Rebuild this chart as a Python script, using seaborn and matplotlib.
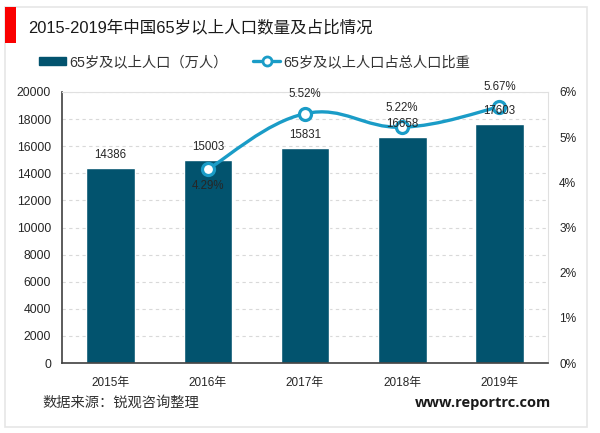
import numpy as np
import pandas as pd
import matplotlib
matplotlib.use("Agg")
import matplotlib.pyplot as plt
from matplotlib.lines import Line2D
from matplotlib.patches import Patch, PathPatch, Rectangle
from matplotlib.path import Path
import seaborn as sns

years = ["2015年", "2016年", "2017年", "2018年", "2019年"]
population = [14386, 15003, 15831, 16658, 17603]
share_years = ["2016年", "2017年", "2018年", "2019年"]
share = [4.29, 5.52, 5.22, 5.67]
left_ticks = [0, 2000, 4000, 6000, 8000, 10000, 12000, 14000, 16000, 18000, 20000]
right_ticks = [0, 1, 2, 3, 4, 5, 6]

BAR = "#02536e"
LINE = "#1a9cc7"
W, H = 600, 433

sns.set_theme(style="white")
plt.rcParams["font.family"] = ["Liberation Sans", "Noto Sans CJK SC", "DejaVu Sans"]

fig = plt.figure(figsize=(W / 100, H / 100), dpi=100)
ax = fig.add_axes([62 / W, 1 - 363 / H, (548 - 62) / W, (363 - 92) / H])

df = pd.DataFrame({"year": years, "population": population})
sns.barplot(data=df, x="year", y="population", color=BAR, saturation=1, width=0.5, ax=ax, zorder=2)
ax.set_xlim(-0.5, 4.5)
ax.set_ylim(0, 20000)
ax.set_yticks(left_ticks)
ax.set_xlabel("")
ax.set_ylabel("")
ax.grid(axis="y", color="#d9d9d9", ls=(0, (3, 3)), lw=0.8, zorder=0)
ax.tick_params(axis="x", length=0, labelsize=8.5, labelcolor="#262626", pad=10)
ax.tick_params(axis="y", length=0, labelsize=8.8, labelcolor="#262626", pad=8)
for s in ["top", "right"]:
    ax.spines[s].set_color("#e0e0e0")
    ax.spines[s].set_linewidth(0.8)
for s in ["left", "bottom"]:
    ax.spines[s].set_color("#404040")
    ax.spines[s].set_linewidth(1.2)

ax2 = ax.twinx()
ax2.set_ylim(0, 6)
ax2.set_yticks(right_ticks)
ax2.set_yticklabels([f"{t}%" for t in right_ticks])
ax2.tick_params(axis="y", length=0, labelsize=8.6, labelcolor="#262626", pad=8)
ax2.grid(False)
for s in ax2.spines.values():
    s.set_visible(False)

# smoothed line like the spreadsheet one: bezier through the points
xs = [years.index(y) for y in share_years]
pts = np.column_stack([xs, share])
ext = np.vstack([pts[0], pts, pts[-1]])
verts, codes = [tuple(pts[0])], [Path.MOVETO]
for i in range(1, len(ext) - 2):
    c1 = ext[i] + (ext[i + 1] - ext[i - 1]) / 5
    c2 = ext[i + 1] - (ext[i + 2] - ext[i]) / 5
    verts += [tuple(c1), tuple(c2), tuple(ext[i + 1])]
    codes += [Path.CURVE4] * 3
ax2.add_patch(PathPatch(Path(verts, codes), fill=False, ec=LINE, lw=2.4, zorder=3))
sns.scatterplot(x=xs, y=share, s=75, color="white", edgecolor=LINE, linewidth=2.3, ax=ax2, zorder=4, legend=False)

for i, v in enumerate(population):
    ax2.annotate(str(v), (i, v / 20000 * 6), xytext=(0, 9.5), textcoords="offset points", ha="center", va="center",
                 fontsize=8.3, color="#262626", zorder=6)
# percentage labels sit above the points, except the first one
for x, v in zip(xs, share):
    dy = -0.38 if x == 1 else 0.43
    ax2.text(x, v + dy, f"{v:.2f}%", ha="center", va="center", fontsize=8.3, color="#262626", zorder=6)

handles = [
    Patch(color=BAR, label="65岁及以上人口（万人）"),
    Line2D([], [], color=LINE, lw=2.4, marker="o", ms=6.5, mfc="white", mec=LINE, mew=2, label="65岁及以上人口占总人口比重"),
]
fig.legend(handles=handles, loc="center left", bbox_to_anchor=(39 / W, 1 - 62 / H), ncol=2, frameon=False,
           fontsize=10.3, handlelength=1.9, handleheight=0.5, handletextpad=0.2, columnspacing=1.8, borderpad=0,
           borderaxespad=0, labelcolor="#333333")

fig.add_artist(Rectangle((5 / W, 1 - 427 / H), 582 / W, 420 / H, transform=fig.transFigure, fill=False, ec="#e6e6e6", lw=1.2, zorder=0))
fig.add_artist(Rectangle((5 / W, 1 - 43 / H), 11 / W, 36 / H, transform=fig.transFigure, fc="#fa0000", ec="none"))
fig.text(28 / W, 1 - 27 / H, "2015-2019年中国65岁以上人口数量及占比情况", fontsize=11.9, va="center", color="#1a1a1a")
fig.text(42 / W, 1 - 403 / H, "数据来源：锐观咨询整理", fontsize=10.3, va="center", color="#333333")
fig.text(551 / W, 1 - 403 / H, "www.reportrc.com", fontsize=10.5, va="center", ha="right", fontweight="bold",
         color="#1a1a1a", family=["Open Sans", "DejaVu Sans"])

fig.savefig("out.png", dpi=100)
